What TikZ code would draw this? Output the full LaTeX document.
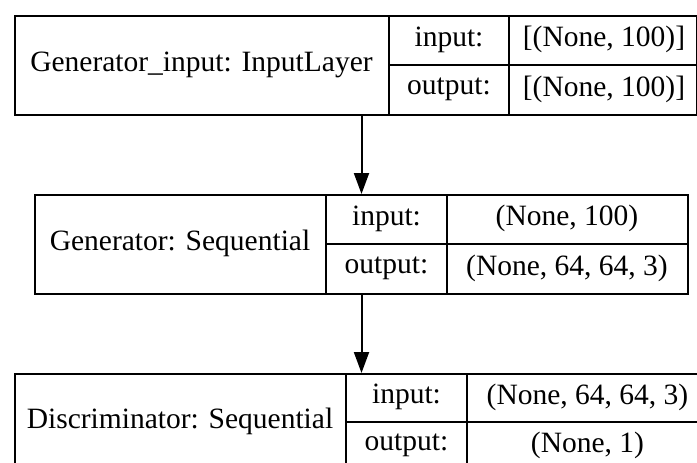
\documentclass[tikz,border=0pt]{standalone}
\usepackage{fontspec}
\setmainfont{Liberation Serif}
\usetikzlibrary{positioning,arrows.meta}

\begin{document}
\begin{tikzpicture}[x=1pt,y=-1pt,
    record/.style={draw, line width=2pt, inner sep=0pt, anchor=north west},
    cell/.style={font=\fontsize{29.5}{31}\selectfont, inner sep=0pt},
    rule/.style={line width=2pt},
    flow/.style={-{Triangle[length=21pt,width=15pt]}, line width=2pt}]
    \useasboundingbox (0,0) rectangle (697,463);
    \clip (0,0) rectangle (697,463);

    % Generator_input record
    \node[record, minimum width=682pt, minimum height=99pt] (gin) at (14,15) {};
    \draw[rule] (389,15) -- (389,114);
    \draw[rule] (509,15) -- (509,114);
    \draw[rule] (389,64.5) -- (696,64.5);
    \node[cell] (gin_lbl) at (201.5,64.5) {Generator\_input: InputLayer};
    \node[cell] (gin_in) at (449,39.75) {input:};
    \node[cell] (gin_out) at (449,89.25) {output:};
    \node[cell] (gin_inv) at (604,39.75) {[(None, 100)]};
    \node[cell] (gin_outv) at (604,89.25) {[(None, 100)]};

    % Generator record
    \node[record, minimum width=653pt, minimum height=99pt] (gen) at (34,194) {};
    \draw[rule] (326,194) -- (326,293);
    \draw[rule] (447,194) -- (447,293);
    \draw[rule] (326,243.5) -- (687,243.5);
    \node[cell] (gen_lbl) at (180,243.5) {Generator: Sequential};
    \node[cell] (gen_in) at (386.5,218.75) {input:};
    \node[cell] (gen_out) at (386.5,268.25) {output:};
    \node[cell] (gen_inv) at (567,218.75) {(None, 100)};
    \node[cell] (gen_outv) at (567,268.25) {(None, 64, 64, 3)};

    % Discriminator record (runs off the page)
    \node[record, minimum width=694pt, minimum height=97pt] (disc) at (14,373) {};
    \draw[rule] (346,373) -- (346,470);
    \draw[rule] (467,373) -- (467,470);
    \draw[rule] (346,421.5) -- (708,421.5);
    \node[cell] (disc_lbl) at (180,421.5) {Discriminator: Sequential};
    \node[cell] (disc_in) at (406.5,397.25) {input:};
    \node[cell] (disc_out) at (406.5,445.75) {output:};
    \node[cell] (disc_inv) at (587.5,397.25) {(None, 64, 64, 3)};
    \node[cell] (disc_outv) at (587.5,445.75) {(None, 1)};

    % Connectors
    \draw[flow] (gen.north |- gin.south) -- (gen.north);
    \draw[flow] (gen.south) -- (gen.south |- disc.north);
\end{tikzpicture}
\end{document}
